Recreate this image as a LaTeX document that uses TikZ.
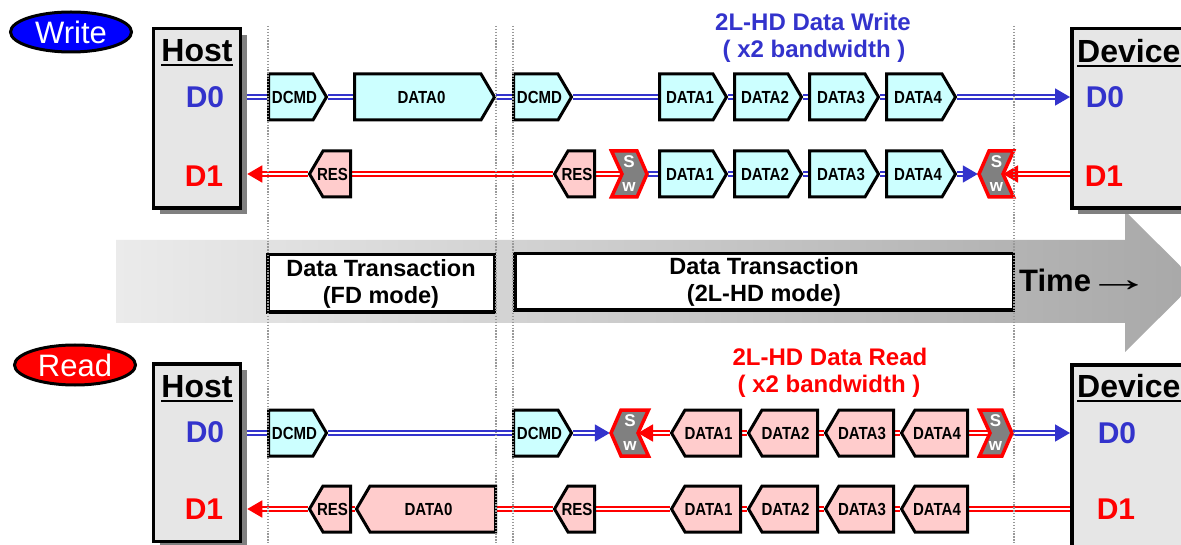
\documentclass[tikz,border=0pt]{standalone}
\usepackage{fontspec}
\usepackage{graphicx}
\setmainfont{Liberation Sans}
\newfontfamily\pktf[FakeStretch=0.86]{Liberation Sans}
\usetikzlibrary{arrows.meta,shapes.geometric,shadows}
\pgfdeclarelayer{back}\pgfdeclarelayer{bg}\pgfdeclarelayer{fg}
\pgfsetlayers{back,bg,main,fg}
\definecolor{tblue}{HTML}{3333CC}
\definecolor{tred}{HTML}{FF0000}
\definecolor{cyanf}{HTML}{CCFFFF}
\definecolor{pinkf}{HTML}{FFCCCC}
\definecolor{hgray}{HTML}{E6E6E6}
\definecolor{swgray}{HTML}{808080}
\definecolor{bandl}{HTML}{EBEBEB}
\definecolor{bandr}{HTML}{A8A8A8}
\definecolor{ellblue}{HTML}{0000FF}
\tikzset{
 pkt/.style={draw=black, line width=3pt, line join=miter},
 pktn/.style={inner sep=0pt, minimum height=46pt, font=\pktf\bfseries\fontsize{17.5}{18}\selectfont},
 swshape/.style={draw=tred, line width=3.5pt, fill=swgray, line join=miter},
 swn/.style={inner sep=0pt, minimum height=46pt, text=white, align=center, font=\bfseries\fontsize{17}{24}\selectfont},
 bdbl/.style={draw=tblue, line width=1.7pt, double=white, double distance=2pt},
 rdbl/.style={draw=tred, line width=1.7pt, double=white, double distance=2pt},
 arrtip/.style={-{Triangle[length=15pt,width=17pt]}},
 endbox/.style={draw=black, line width=3.5pt, fill=hgray, inner sep=0pt,
   drop shadow={shadow xshift=6pt, shadow yshift=-6pt, opacity=1, fill=black!50}},
 endtxt/.style={inner sep=0pt, font=\bfseries\fontsize{32}{36}\selectfont},
 lbl/.style={inner sep=0pt, font=\bfseries\fontsize{30}{34}\selectfont},
 ttl/.style={inner sep=0pt, font=\bfseries\fontsize{24}{28}\selectfont},
 txbox/.style={draw=black, line width=3.5pt, fill=white, inner sep=0pt, align=center,
   font=\bfseries\fontsize{23.5}{27}\selectfont},
 oval/.style={ellipse, draw=black, line width=3pt, inner sep=0pt, minimum width=121pt,
   minimum height=40pt, text=white, font=\fontsize{31}{36}\selectfont},
 dotl/.style={draw=black!40, line width=1.3pt, dash pattern=on 1.3pt off 1.6pt},
}
% right-pointing packet: name, xl, xr, y, fill, text
\newcommand\pktR[6]{%
  \filldraw[pkt,fill=#5] (#2+1.5,#4-23) -- (#3-15,#4-23) -- (#3-1.5,#4) -- (#3-15,#4+23) -- (#2+1.5,#4+23) -- cycle;
  \node[pktn, minimum width={(#3-#2)*1pt}] (#1) at ({(#2+#3)/2},#4) {\hspace*{-6pt}#6};}
% left-pointing packet
\newcommand\pktL[6]{%
  \filldraw[pkt,fill=#5] (#3-1.5,#4-23) -- (#2+15,#4-23) -- (#2+1.5,#4) -- (#2+15,#4+23) -- (#3-1.5,#4+23) -- cycle;
  \node[pktn, minimum width={(#3-#2)*1pt}] (#1) at ({(#2+#3)/2},#4) {\hspace*{5pt}#6};}
% switch chevron, notch left, point right
\newcommand\swR[4]{%
  \filldraw[swshape] (#2+1.5,#4-23) -- (#3-11,#4-23) -- (#3-1,#4) -- (#3-11,#4+23) -- (#2+1.5,#4+23) -- (#2+12,#4) -- cycle;
  \node[swn, minimum width={(#3-#2)*1pt}] (#1) at ({(#2+#3)/2},#4) {S\\w};
  \coordinate (#1n) at (#2+12,#4);}
% switch chevron, point left, notch right
\newcommand\swL[4]{%
  \filldraw[swshape] (#2+11,#4-23) -- (#3-1.5,#4-23) -- (#3-12,#4) -- (#3-1.5,#4+23) -- (#2+11,#4+23) -- (#2+1,#4) -- cycle;
  \node[swn, minimum width={(#3-#2)*1pt}] (#1) at ({(#2+#3)/2},#4) {S\\w};
  \coordinate (#1n) at (#3-12,#4);}
\begin{document}
\begin{tikzpicture}[x=1pt,y=-1pt]
\useasboundingbox (0,0) rectangle (1181,545);
\begin{pgfonlayer}{back}
\shade[left color=bandl, right color=bandr] (116,240) -- (1125,240) -- (1125,211) -- (1196,281.5)
  -- (1125,352) -- (1125,323) -- (116,323) -- cycle;
\end{pgfonlayer}
\clip (0,0) rectangle (1181,545);
% mode boxes
\node[txbox, minimum width=226.5pt, minimum height=57.5pt] (fd) at (381,283.5) {Data Transaction\\(FD mode)};
\node[txbox, minimum width=498.5pt, minimum height=56.5pt] (hd) at (764,282) {Data Transaction\\(2L-HD mode)};
\node[inner sep=0pt, anchor=west, font=\fontsize{31}{36}\selectfont] (time) at (1019,280) {\textbf{Time}\hspace{-5pt}\scalebox{2.1}[1.2]{→}};
% ovals
\node[oval, fill=ellblue] (wr) at (71,32) {Write};
\node[oval, fill=tred] (rd) at (75,365) {Read};
% hosts and devices
\node[endbox, minimum width=87pt, minimum height=179.5pt] (h1) at (197,118.5) {};
\node[endbox, minimum width=87pt, minimum height=177.5pt] (h2) at (197,452.5) {};
\node[endbox, minimum width=140pt, minimum height=179.5pt] (d1) at (1141.75,118.5) {};
\node[endbox, minimum width=140pt, minimum height=195pt] (d2) at (1141.75,462.4) {};
\node[endtxt, anchor=base] (h1t) at (197,62) {Host};
\node[endtxt, anchor=base] (h2t) at (197,397) {Host};
\node[endtxt, anchor=base west] (d1t) at (1077,63) {Device};
\node[endtxt, anchor=base west] (d2t) at (1077,397) {Device};
\foreach \n in {h1t,h2t,d1t,d2t}
  \draw[line width=2pt] ([yshift=-3.5pt]\n.base west) -- ([yshift=-3.5pt]\n.base east);
\node[lbl, text=tblue] (h1a) at (205,97) {D0};
\node[lbl, text=tred] (h1b) at (204,176) {D1};
\node[lbl, text=tblue] (h2a) at (205,432) {D0};
\node[lbl, text=tred] (h2b) at (204,509) {D1};
\node[lbl, text=tblue] (d1a) at (1105,97) {D0};
\node[lbl, text=tred] (d1b) at (1104,176) {D1};
\node[lbl, text=tblue] (d2a) at (1117,433) {D0};
\node[lbl, text=tred] (d2b) at (1116,509) {D1};
% titles
\node[ttl, text=tblue] (wt1) at (813,22) {2L-HD Data Write};
\node[ttl, text=tblue] (wt2) at (814,51) {( x2 bandwidth )};
\node[ttl, text=tred] (rt1) at (830,357) {2L-HD Data Read};
\node[ttl, text=tred] (rt2) at (829,386) {( x2 bandwidth )};
% write D0
\pktR{wa}{267}{328}{97}{cyanf}{DCMD}
\pktR{wb}{353}{496}{97}{cyanf}{DATA0}
\pktR{wc}{512}{573}{97}{cyanf}{DCMD}
\pktR{wd}{658}{728}{97}{cyanf}{DATA1}
\pktR{we}{733}{803}{97}{cyanf}{DATA2}
\pktR{wf}{808}{880}{97}{cyanf}{DATA3}
\pktR{wg}{885}{957}{97}{cyanf}{DATA4}
% write D1
\pktL{xa}{308}{352}{174}{pinkf}{RES}
\pktL{xb}{553}{596}{174}{pinkf}{RES}
\swR{xs}{610}{648}{174}
\pktR{xd}{658}{728}{174}{cyanf}{DATA1}
\pktR{xe}{733}{803}{174}{cyanf}{DATA2}
\pktR{xf}{808}{880}{174}{cyanf}{DATA3}
\pktR{xg}{885}{957}{174}{cyanf}{DATA4}
\swL{xt}{978}{1015}{174}
% read D0
\pktR{ra}{267}{328}{433}{cyanf}{DCMD}
\pktR{rc}{512}{573}{433}{cyanf}{DCMD}
\swL{rs}{610}{650}{433}
\pktL{rdd}{670}{742}{433}{pinkf}{DATA1}
\pktL{re}{747}{819}{433}{pinkf}{DATA2}
\pktL{rf}{824}{895}{433}{pinkf}{DATA3}
\pktL{rg}{900}{969}{433}{pinkf}{DATA4}
\swR{rt}{978}{1013}{433}
% read D1
\pktL{ya}{308}{352}{509}{pinkf}{RES}
\pktL{yb}{355}{497}{509}{pinkf}{DATA0}
\pktL{yc}{553}{596}{509}{pinkf}{RES}
\pktL{yd}{670}{742}{509}{pinkf}{DATA1}
\pktL{ye}{747}{819}{509}{pinkf}{DATA2}
\pktL{yf}{824}{895}{509}{pinkf}{DATA3}
\pktL{yg}{900}{969}{509}{pinkf}{DATA4}
% connectors
\begin{pgfonlayer}{bg}
\draw[bdbl] (h1.east |- wa.west) -- (wa.west);
\draw[bdbl] (wa.east) -- (wb.west);
\draw[bdbl] (wb.east) -- (wc.west);
\draw[bdbl] (wc.east) -- (wd.west);
\draw[bdbl] (wd.east) -- (we.west);
\draw[bdbl] (we.east) -- (wf.west);
\draw[bdbl] (wf.east) -- (wg.west);
\draw[bdbl,arrtip] (wg.east) -- (d1.west |- wg.east);
\draw[rdbl,arrtip,shorten >=5pt] (xa.west) -- (h1.east |- xa.west);
\draw[rdbl] (xb.west) -- (xa.east);
\draw[rdbl] (xsn) -- (xb.east);
\draw[bdbl] (xs.east) -- (xd.west);
\draw[bdbl] (xd.east) -- (xe.west);
\draw[bdbl] (xe.east) -- (xf.west);
\draw[bdbl] (xf.east) -- (xg.west);
\draw[bdbl,arrtip] (xg.east) -- (xt.west);
\draw[rdbl,arrtip] (d1.west |- xtn) -- (xtn);
\draw[bdbl] (h2.east |- ra.west) -- (ra.west);
\draw[bdbl] (ra.east) -- (rc.west);
\draw[bdbl,arrtip] (rc.east) -- (rs.west);
\draw[rdbl,arrtip] (rdd.west) -- (rsn);
\draw[rdbl] (rdd.east) -- (re.west);
\draw[rdbl] (re.east) -- (rf.west);
\draw[rdbl] (rf.east) -- (rg.west);
\draw[rdbl] (rg.east) -- (rtn);
\draw[bdbl,arrtip] (rt.east) -- (d2.west |- rt.east);
\draw[rdbl,arrtip,shorten >=5pt] (ya.west) -- (h2.east |- ya.west);
\draw[rdbl] (yb.west) -- (ya.east);
\draw[rdbl] (yc.west) -- (yb.east);
\draw[rdbl] (yd.west) -- (yc.east);
\draw[rdbl] (yd.east) -- (ye.west);
\draw[rdbl] (ye.east) -- (yf.west);
\draw[rdbl] (yf.east) -- (yg.west);
\draw[rdbl] (d2.west |- yg.east) -- (yg.east);
\end{pgfonlayer}
% dotted separators
\begin{pgfonlayer}{fg}
\foreach \x in {268,496,513,1014}
  \draw[dotl] (\x,26) -- (\x,545);
\end{pgfonlayer}
\end{tikzpicture}
\end{document}
